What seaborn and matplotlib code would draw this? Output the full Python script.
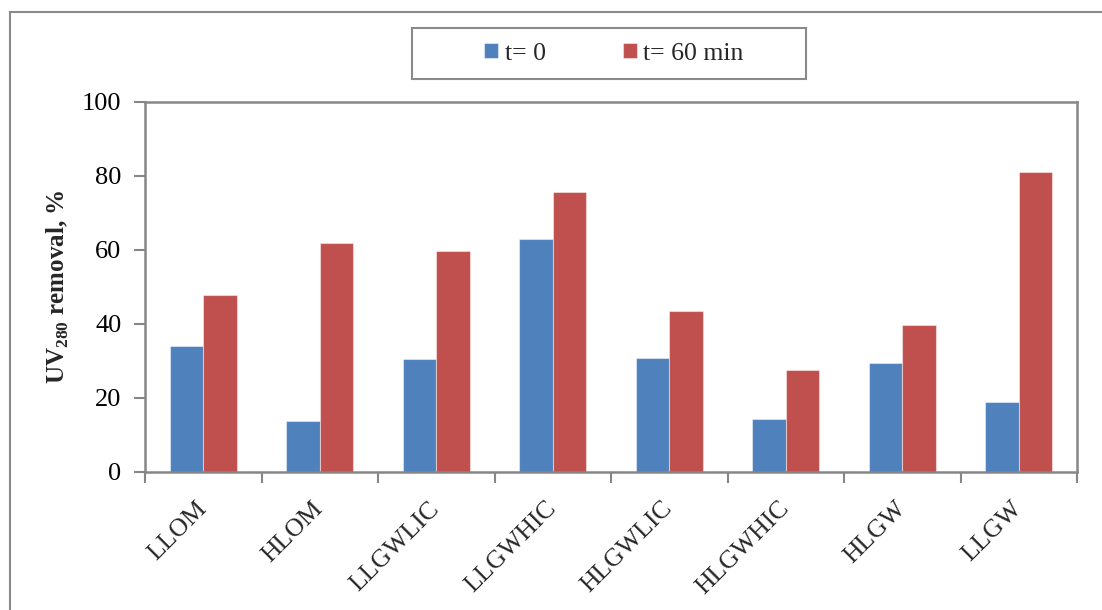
import matplotlib
matplotlib.use("Agg")
import matplotlib.pyplot as plt
import matplotlib.transforms as mtransforms
from matplotlib.patches import Rectangle
from matplotlib.ticker import FixedLocator, NullFormatter
import seaborn as sns
import pandas as pd

# UV280 removal (%) per water sample, before and after 60 min treatment
samples = ["LLOM", "HLOM", "LLGWLIC", "LLGWHIC", "HLGWLIC", "HLGWHIC", "HLGW", "LLGW"]
removal_t0 = [34.0, 13.9, 30.5, 62.9, 30.7, 14.2, 29.5, 19.0]
removal_t60 = [47.9, 61.9, 59.7, 75.8, 43.4, 27.5, 39.6, 81.0]
series_labels = ["t= 0", "t= 60 min"]
y_ticks = [0, 20, 40, 60, 80, 100]

df = pd.DataFrame({
    "sample": samples * 2,
    "removal": removal_t0 + removal_t60,
    "time": [series_labels[0]] * len(samples) + [series_labels[1]] * len(samples),
})

sns.set_theme(style="white")
plt.rcParams["font.family"] = ["Liberation Serif", "DejaVu Serif"]
plt.rcParams["mathtext.fontset"] = "custom"
plt.rcParams["mathtext.rm"] = "Liberation Serif"
plt.rcParams["mathtext.bf"] = "Liberation Serif:bold"

W, H = 1102, 610
GREY = "#868686"
fig = plt.figure(figsize=(W / 100, H / 100), dpi=100)
ax = fig.add_axes([145 / W, 1 - 472 / H, (1077 - 145) / W, (472 - 102) / H])

sns.barplot(
    data=df, x="sample", y="removal", hue="time",
    order=samples, hue_order=series_labels,
    palette=["#4F81BD", "#C0504D"], saturation=1, width=0.571,
    linewidth=0.8, edgecolor=(1, 1, 1, 0.45), ax=ax,
)

# legend in a separate box above the plot area
handles, labels = ax.get_legend_handles_labels()
ax.get_legend().remove()
fig.legend(
    handles, labels, ncol=2, loc="center",
    bbox_to_anchor=(614 / W, 1 - 53.5 / H), frameon=False,
    fontsize=18.5, handlelength=0.55, handleheight=0.55,
    handletextpad=0.25, columnspacing=3.0,
)
fig.add_artist(Rectangle((412 / W, 1 - 79 / H), 394 / W, 51 / H,
                         transform=fig.transFigure, fill=False,
                         edgecolor="#8a8a8a", linewidth=1.5))
# outer chart-area border
fig.add_artist(Rectangle((10 / W, -0.2), 1.2, 1.2 - 12 / H,
                         transform=fig.transFigure, fill=False,
                         edgecolor="#8a8a8a", linewidth=1.5))

ax.set_ylim(0, 100)
ax.set_yticks(y_ticks)
ax.set_xlim(-0.5, len(samples) - 0.5)

# category boundaries get the tick marks, centres get the labels
ax.xaxis.set_major_locator(FixedLocator([i - 0.5 for i in range(len(samples) + 1)]))
ax.xaxis.set_major_formatter(NullFormatter())
ax.set_xticks(range(len(samples)), minor=True)
ax.set_xticklabels(samples, minor=True, rotation=45, ha="right", va="center",
                   rotation_mode="anchor", fontsize=18.5)
shift = mtransforms.ScaledTranslation(-10 / 100, 0, fig.dpi_scale_trans)
for lab in ax.get_xticklabels(minor=True):
    lab.set_transform(lab.get_transform() + shift)

ax.tick_params(axis="x", which="major", direction="out", length=8, width=1.5,
               color=GREY, bottom=True)
ax.tick_params(axis="x", which="minor", length=0, pad=24, bottom=True)
ax.tick_params(axis="y", direction="out", length=8, width=1.5, color=GREY,
               left=True, labelsize=19, pad=9, labelcolor="black")

for side in ["left", "right", "top", "bottom"]:
    ax.spines[side].set_visible(True)
    ax.spines[side].set_color(GREY)
    ax.spines[side].set_linewidth(1.8)

ax.set_xlabel("")
ax.set_ylabel(r"UV$_{\mathbf{280}}$ removal, %", fontsize=18, fontweight="bold")
ax.yaxis.set_label_coords((71 - 145) / (1077 - 145), 0.5)

fig.savefig("out.png", dpi=100, facecolor="white")
